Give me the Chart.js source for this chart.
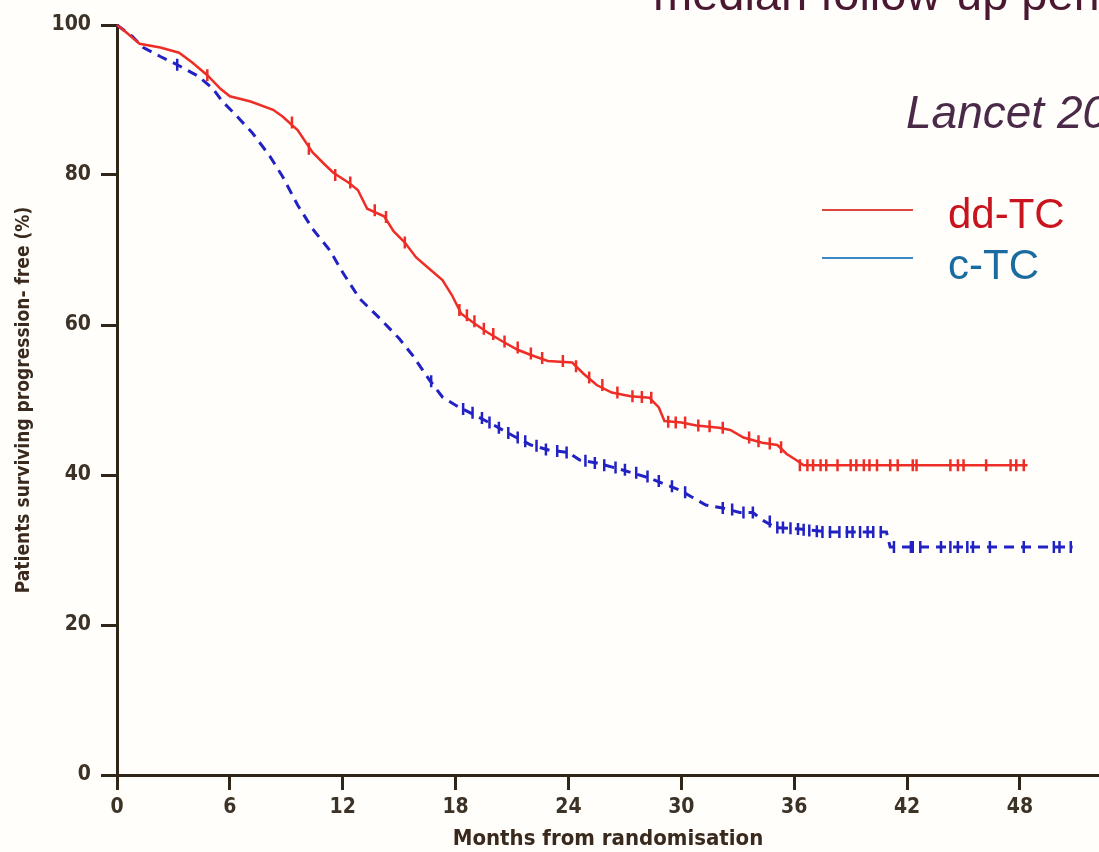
<!DOCTYPE html>
<html>
<head>
<meta charset="utf-8">
<script src="https://cdn.jsdelivr.net/npm/chart.js@4/dist/chart.umd.min.js"></script>
<style>
  html, body { margin: 0; padding: 0; background: #fffefb; }
  #wrap { position: relative; width: 1099px; height: 852px; overflow: hidden; }
  #plot { position: absolute; left: 0; top: 0; }
  .txt { position: absolute; white-space: nowrap; font-family: "Liberation Sans", Arial, sans-serif; line-height: 1; }
  .key { position: absolute; height: 2px; }
</style>
</head>
<body>
<div id="wrap">
  <canvas id="plot" width="1099" height="852"></canvas>
  <div class="txt" style="left:653px; top:-30px; font-size:47px; color:#4a1830;">median follow-up period</div>
  <div class="txt" style="left:906px; top:89px; font-size:46px; font-style:italic; color:#4a2a48;">Lancet 2009</div>
  <div class="key" style="left:822px; top:209px; width:91px; background:#dc463e;"></div>
  <div class="key" style="left:822px; top:257px; width:91px; background:#3a88c6;"></div>
  <div class="txt" style="left:948px; top:193px; font-size:42px; color:#c8141e;">dd-TC</div>
  <div class="txt" style="left:948px; top:244px; font-size:42px; color:#1a6ca0;">c-TC</div>
</div>
<script>
// months from randomisation, % progression-free
const ddMonths = [0, 0.5, 1.2, 2.3, 3.3, 4, 4.8, 5.5, 6, 7.1, 8.3, 8.8, 9.6, 10.4, 11, 11.5, 12.3, 12.8,
  13.3, 14.2, 14.7, 15.3, 15.9, 16.6, 17.3, 17.8, 18.1, 18.3, 19, 19.7, 20.5, 21.3, 22, 22.9, 24.2,
  24.8, 25.5, 26.3, 27.3, 28.3, 28.8, 29.1, 30, 30.8, 32, 32.6, 33.3, 34.3, 35.1, 35.6, 36.1, 36.5, 48.4];
const ddPFS = [100, 99, 97.5, 97, 96.3, 95, 93.3, 91.5, 90.5, 89.8, 88.7, 87.8, 86, 83, 81.5, 80.3, 79, 78,
  75.5, 74.5, 72.5, 71, 69, 67.5, 66, 64, 62.5, 61.5, 60.2, 59, 57.8, 56.7, 56, 55.2, 55,
  53.5, 52, 51, 50.5, 50.3, 49, 47.2, 47, 46.6, 46.3, 46, 45, 44.3, 44, 42.8, 42, 41.3, 41.3];

const cMonths = [0, 0.8, 1.4, 2.3, 3.2, 4.3, 5.1, 5.6, 6.2, 7.2, 8.1, 8.8, 9.6, 10.4, 11.3, 12, 12.9,
  14, 15, 15.7, 16.6, 17.3, 18, 19, 20, 21, 22, 23, 24, 24.6, 25.5, 26.7, 28.3, 29.9, 30.6, 31.3,
  32.2, 33.1, 33.8, 34.3, 35, 36.3, 37.9, 40.9, 41.1, 50.8];
const cPFS = [100, 98.5, 97, 95.8, 94.7, 93.2, 91.5, 89.8, 88.3, 85.6, 82.6, 79.8, 76, 72.8, 70, 67, 63.5,
  60.8, 58.2, 56, 52.7, 50.4, 49.3, 48, 46.7, 45.3, 44, 43.3, 43, 42, 41.6, 40.8, 39.6, 38, 37, 36,
  35.6, 35, 35, 34, 33, 32.8, 32.4, 32.4, 30.4, 30.4];

// censored patients (tick marks)
const ddCensorMonths = [4.8, 9.3, 10.2, 11.6, 12.4, 13.7, 14.3, 15.3, 18.2, 18.6, 19, 19.5, 20, 20.6, 21.3,
  22, 22.6, 23.7, 24.4, 25.1, 25.8, 26.6, 27.4, 27.9, 28.4, 29.3, 29.7, 30.2, 30.9, 31.5, 32.2, 33.6,
  34.1, 34.7, 35.3, 36.3, 36.7, 37, 37.4, 37.7, 38.3, 39, 39.3, 39.7, 40, 40.4, 41.1, 41.5, 42.3, 42.5,
  44.3, 44.7, 45, 46.2, 47.5, 47.8, 48.2];
const ddCensorPFS = [93.3, 87, 83.5, 80, 79, 75.3, 74.4, 71, 62, 61.3, 60.5, 59.5, 58.8, 57.8, 57,
  56.2, 55.6, 55.2, 54.5, 53, 52, 51, 50.5, 50.4, 50.3, 47.1, 47, 47, 46.6, 46.5, 46.3, 45,
  44.5, 44.2, 43.7, 41.3, 41.3, 41.3, 41.3, 41.3, 41.3, 41.3, 41.3, 41.3, 41.3, 41.3, 41.3, 41.3, 41.3, 41.3,
  41.3, 41.3, 41.3, 41.3, 41.3, 41.3, 41.3];

const cCensorMonths = [3.2, 16.7, 18.4, 18.9, 19.4, 19.8, 20.3, 20.8, 21.3, 21.7, 22.3, 22.8, 23.4, 23.9,
  24.9, 25.4, 25.9, 26.5, 27, 27.6, 28.2, 28.8, 29.5, 30.2, 32.2, 32.7, 33.3, 33.8, 34.7, 35.1, 35.4,
  35.8, 36.2, 36.5, 36.8, 37.2, 37.5, 37.9, 38.4, 38.8, 39.1, 39.5, 39.9, 40.2, 40.6, 41.3, 42.2, 42.3,
  42.7, 43.8, 44.3, 44.7, 45.2, 45.5, 46.4, 48.2, 49.8, 50.1, 50.7];
const cCensorPFS = [94.7, 52.5, 48.8, 48.3, 47.6, 47, 46.3, 45.6, 45, 44.5, 43.9, 43.4, 43.2, 43,
  41.9, 41.6, 41.3, 41, 40.7, 40.3, 39.8, 39.2, 38.5, 37.7, 35.6, 35.4, 35, 35, 33.8, 33, 33,
  32.9, 32.8, 32.7, 32.6, 32.5, 32.4, 32.4, 32.4, 32.4, 32.4, 32.4, 32.4, 32.4, 32.4, 30.4, 30.4, 30.4,
  30.4, 30.4, 30.4, 30.4, 30.4, 30.4, 30.4, 30.4, 30.4, 30.4, 30.4];

const xTicks = [0, 6, 12, 18, 24, 30, 36, 42, 48];
const yTicks = [0, 20, 40, 60, 80, 100];

const red = '#ee2e26';
const blue = '#2222c4';
const axisColor = '#2f2519';
const labelColor = '#3c3226';
const condensed = '"DejaVu Sans Condensed", "DejaVu Sans", sans-serif';

const pts = (xs, ys) => xs.map((x, i) => ({ x, y: ys[i] }));

const censorStyle = color => ({
  type: 'scatter',
  showLine: false,
  pointStyle: 'line',
  rotation: 90,
  pointRadius: 6,
  pointBorderWidth: 2.5,
  borderColor: color,
  backgroundColor: color,
  clip: false
});

new Chart(document.getElementById('plot').getContext('2d'), {
  type: 'line',
  data: {
    datasets: [
      { label: 'dd-TC', data: pts(ddMonths, ddPFS), borderColor: red, borderWidth: 2.5,
        pointRadius: 0, tension: 0, clip: false },
      { label: 'c-TC', data: pts(cMonths, cPFS), borderColor: blue, borderWidth: 3,
        borderDash: [10, 7], pointRadius: 0, tension: 0, clip: false },
      { label: 'dd-TC censored', data: pts(ddCensorMonths, ddCensorPFS), ...censorStyle(red) },
      { label: 'c-TC censored', data: pts(cCensorMonths, cCensorPFS), ...censorStyle(blue) }
    ]
  },
  options: {
    responsive: false,
    animation: false,
    devicePixelRatio: 1,
    layout: { autoPadding: false, padding: { top: 25, right: 0, left: 0, bottom: 0 } },
    plugins: { legend: { display: false }, tooltip: { enabled: false } },
    scales: {
      x: {
        type: 'linear', min: 0, max: 52.2,
        afterFit: s => { s.height = 77; s.paddingRight = 0; s.paddingLeft = 0; },
        afterBuildTicks: s => { s.ticks = xTicks.map(v => ({ value: v })); },
        border: { display: true, color: axisColor, width: 3 },
        grid: { drawOnChartArea: false, drawTicks: true, tickLength: 15, tickColor: axisColor, lineWidth: 3 },
        ticks: { color: labelColor, padding: 5, font: { family: condensed, weight: 'bold', size: 21 } },
        title: { display: true, text: 'Months from randomisation', color: '#3a2a1e',
          padding: { top: 0, bottom: 0 },
          font: { family: condensed, weight: 'bold', size: 22 } }
      },
      y: {
        min: 0, max: 100,
        afterFit: s => { s.width = 117; },
        afterBuildTicks: s => { s.ticks = yTicks.map(v => ({ value: v })); },
        border: { display: true, color: axisColor, width: 3 },
        grid: { drawOnChartArea: false, drawTicks: true, tickLength: 16, tickColor: axisColor, lineWidth: 3 },
        ticks: { color: labelColor, padding: 10, font: { family: condensed, weight: 'bold', size: 21 } },
        title: { display: true, text: 'Patients surviving progression- free (%)', color: '#3a2a1e',
          padding: { top: 13, bottom: 0 },
          font: { family: condensed, weight: 'bold', size: 19 } }
      }
    }
  }
});
</script>
</body>
</html>
